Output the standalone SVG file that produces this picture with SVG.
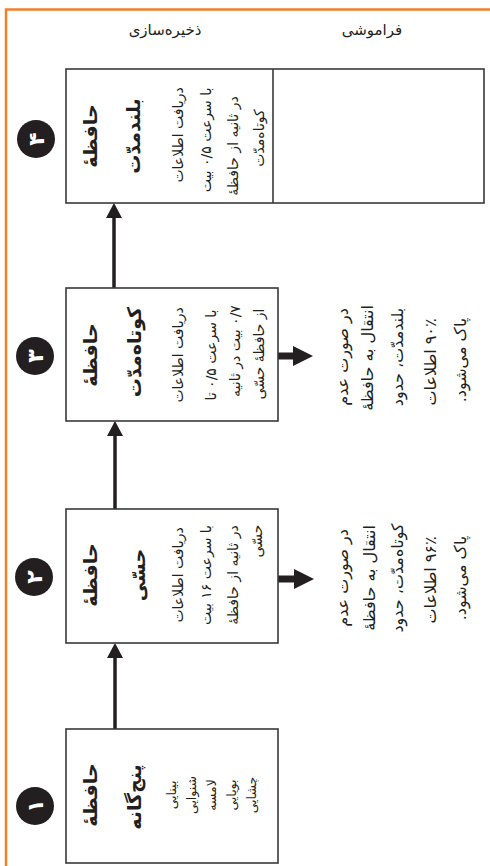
<svg xmlns="http://www.w3.org/2000/svg" width="490" height="866" viewBox="0 0 490 866">
<style>
.frame{fill:none;stroke:#f27f2a;stroke-width:2.5}
.box{fill:#fff;stroke:#3a3a3a;stroke-width:1.6}
.t{font-family:"DejaVu Sans",sans-serif;fill:#231f20;text-anchor:middle;direction:rtl}
.title{font-size:19px;font-weight:bold}
.body{font-size:14px}
.side{font-size:16px}
.list{font-size:12.5px}
.head{font-family:"DejaVu Sans",sans-serif;font-size:15px;fill:#231f20;text-anchor:middle;direction:rtl}
.num{font-family:"DejaVu Sans",sans-serif;font-size:22px;font-weight:bold;fill:#fff;text-anchor:middle}
.badge{fill:#231f20}
.conn{stroke:#231f20;stroke-width:3.5;fill:none}
.ah{fill:#231f20}
</style>
<rect width="490" height="866" fill="#fff"/>
<path class="frame" d="M6,866 V9.5 H490"/>
<g id="headers">
<text class="head" x="165" y="35">ذخیره‌سازی</text>
<text class="head" x="372" y="35">فراموشی</text>
</g>
<g id="connectors">
<line class="conn" x1="115" y1="729" x2="115" y2="656"/>
<polygon class="ah" points="107,658 123,658 115,643"/>
<line class="conn" x1="115" y1="509" x2="115" y2="434"/>
<polygon class="ah" points="107,436 123,436 115,421"/>
<line class="conn" x1="114" y1="288" x2="114" y2="216"/>
<polygon class="ah" points="106,218 122,218 114,203"/>
<path class="ah" d="M267,115 H293 V111 L308,118 L293,125 V121 H267 Z"/>
<path class="ah" d="M267,149 H293 V145 L308,152 L293,159 V155 H267 Z"/>
<path class="ah" d="M273,352.5 H293 V346 L313,356 L293,366 V359.5 H273 Z"/>
<path class="ah" d="M273,575.5 H294 V569 L314,579 L294,589 V582.5 H273 Z"/>
</g>
<g id="node1">
<rect class="box" x="66" y="729" width="212" height="134"/>
<circle class="badge" cx="35" cy="806" r="19"/>
<text class="num" transform="translate(43,806) rotate(-90)">۱</text>
<text class="t title" transform="translate(97,795) rotate(-90)">حافظهٔ</text>
<text class="t title" transform="translate(141,797) rotate(-90)">پنج‌گانه</text>
<text class="t list" transform="translate(176,795) rotate(-90)">بینایی</text>
<text class="t list" transform="translate(196,795) rotate(-90)">شنوایی</text>
<text class="t list" transform="translate(216,795) rotate(-90)">لامسه</text>
<text class="t list" transform="translate(236,795) rotate(-90)">بویایی</text>
<text class="t list" transform="translate(256,795) rotate(-90)">چشایی</text>
</g>
<g id="node2">
<rect class="box" x="66" y="509" width="212" height="134"/>
<circle class="badge" cx="34" cy="577" r="19"/>
<text class="num" transform="translate(42,577) rotate(-90)">۲</text>
<text class="t title" transform="translate(97,575) rotate(-90)">حافظهٔ</text>
<text class="t title" transform="translate(145,575) rotate(-90)">حسّی</text>
<text class="t body" transform="translate(183,575) rotate(-90)">دریافت اطلاعات</text>
<text class="t body" transform="translate(211,575) rotate(-90)">با سرعت ۱۶ بیت</text>
<text class="t body" transform="translate(238,575) rotate(-90)">در ثانیه از حافظهٔ</text>
<text class="t body" transform="translate(262,541) rotate(-90)">حسّی</text>
<text class="t side" transform="translate(348,578) rotate(-90)">در صورت عدم</text>
<text class="t side" transform="translate(375,578) rotate(-90)">انتقال به حافظهٔ</text>
<text class="t side" transform="translate(403,578) rotate(-90)">کوتاه‌مدّت، حدود</text>
<text class="t side" transform="translate(436,580) rotate(-90)">۹۶٪ اطلاعات</text>
<text class="t side" transform="translate(466,578) rotate(-90)">پاک می‌شود.</text>
</g>
<g id="node3">
<rect class="box" x="66" y="288" width="212" height="133"/>
<circle class="badge" cx="35" cy="356" r="19"/>
<text class="num" transform="translate(43,356) rotate(-90)">۳</text>
<text class="t title" transform="translate(97,355) rotate(-90)">حافظهٔ</text>
<text class="t title" transform="translate(141,352) rotate(-90)">کوتاه‌مدّت</text>
<text class="t body" transform="translate(183,355) rotate(-90)">دریافت اطلاعات</text>
<text class="t body" transform="translate(216,355) rotate(-90)">با سرعت ۰/۵ تا</text>
<text class="t body" transform="translate(240,351) rotate(-90)">۰/۷ بیت در ثانیه</text>
<text class="t body" transform="translate(264,354) rotate(-90)">از حافظهٔ حسّی</text>
<text class="t side" transform="translate(348,357) rotate(-90)">در صورت عدم</text>
<text class="t side" transform="translate(373,358) rotate(-90)">انتقال به حافظهٔ</text>
<text class="t side" transform="translate(403,357) rotate(-90)">بلندمدّت، حدود</text>
<text class="t side" transform="translate(436,362) rotate(-90)">۹۰٪ اطلاعات</text>
<text class="t side" transform="translate(466,360) rotate(-90)">پاک می‌شود.</text>
</g>
<g id="node4">
<rect class="box" x="66" y="69" width="418" height="134"/>
<line class="box" x1="273" y1="69" x2="273" y2="203"/>
<circle class="badge" cx="36" cy="139" r="19"/>
<text class="num" transform="translate(44,139) rotate(-90)">۴</text>
<text class="t title" transform="translate(97,136) rotate(-90)">حافظهٔ</text>
<text class="t title" transform="translate(140,136) rotate(-90)">بلندمدّت</text>
<text class="t body" transform="translate(183,135) rotate(-90)">دریافت اطلاعات</text>
<text class="t body" transform="translate(211,140) rotate(-90)">با سرعت ۰/۵ بیت</text>
<text class="t body" transform="translate(238,146) rotate(-90)">در ثانیه از حافظهٔ</text>
<text class="t body" transform="translate(264,138) rotate(-90)">کوتاه‌مدّت</text>
</g>
</svg>
